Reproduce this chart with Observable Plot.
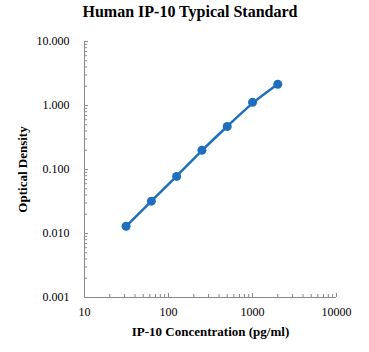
<!DOCTYPE html>
<html>
<head>
<meta charset="utf-8">
<script src="https://cdn.jsdelivr.net/npm/d3@7"></script>
<script src="https://cdn.jsdelivr.net/npm/@observablehq/plot@0.6"></script>
<style>
  body { margin: 0; background: #fff; }
  #wrap { position: relative; width: 369px; height: 352px; }
  #title { position: absolute; left: 0; top: 3px; width: 369px; padding-left: 11px; box-sizing: border-box;
           text-align: center; font-family: "Liberation Serif", "Times New Roman", "DejaVu Serif", serif;
           font-weight: bold; font-size: 16px; color: #000; }
  #chart { position: absolute; left: 0; top: 0; }
  #chart svg text { font-family: "Liberation Serif", "Times New Roman", "DejaVu Serif", serif; }
</style>
</head>
<body>
<div id="wrap">
  <div id="chart"></div>
  <div id="title">Human IP-10 Typical Standard</div>
</div>
<script>
const concentration = [31.25, 62.5, 125, 250, 500, 1000, 2000];
const opticalDensity = [0.013, 0.032, 0.078, 0.2, 0.47, 1.12, 2.15];
const xTicks = [10, 100, 1000, 10000];
const yTicks = [0.001, 0.01, 0.1, 1, 10];
const xMinor = [];
for (const d of [10, 100, 1000]) for (let k = 2; k <= 9; k++) xMinor.push(d * k);
const yMinor = [];
for (const d of [0.001, 0.01, 0.1, 1]) for (let k = 2; k <= 9; k++) yMinor.push(d * k);

const data = concentration.map((c, i) => ({c, od: opticalDensity[i]}));
const blue = "#1e6fbe";
const grey = "#8a8a8a";
const font = "'Liberation Serif', 'Times New Roman', 'DejaVu Serif', serif";

const chart = Plot.plot({
  width: 369,
  height: 352,
  marginLeft: 84,
  marginRight: 33,
  marginTop: 41,
  marginBottom: 55,
  style: {fontFamily: font, fontSize: "12px", color: "#000", background: "transparent"},
  x: {type: "log", domain: [10, 10000]},
  y: {type: "log", domain: [0.001, 10]},
  marks: [
    Plot.axisY({ticks: yMinor, tickSize: 3, dx: 3, text: null, stroke: grey, label: null}),
    Plot.axisY({ticks: yTicks, tickSize: 4, dx: 4, text: null, stroke: grey, label: null}),
    Plot.axisY({ticks: yTicks, tickSize: 0, tickPadding: 15, tickFormat: d3.format(".3f"), fontSize: 12, fontFamily: font, label: null}),
    Plot.axisX({ticks: xMinor, tickSize: 3, dy: -3, text: null, stroke: grey, label: null}),
    Plot.axisX({ticks: xTicks, tickSize: 4, dy: -4, text: null, stroke: grey, label: null}),
    Plot.axisX({ticks: xTicks, tickSize: 0, tickPadding: 10, tickFormat: d3.format("d"), fontSize: 12, fontFamily: font, label: null}),
    Plot.ruleX([10], {stroke: grey, strokeWidth: 1}),
    Plot.ruleY([0.001], {stroke: grey, strokeWidth: 1}),
    Plot.line(data, {x: "c", y: "od", stroke: blue, strokeWidth: 2.5, curve: "basis"}),
    Plot.dot(data, {x: "c", y: "od", r: 4.5, fill: blue, stroke: "none"}),
    Plot.text(["IP-10 Concentration (pg/ml)"], {text: d => d, frameAnchor: "bottom", dy: 38, fontWeight: "bold", fontSize: 13, fontFamily: font}),
    Plot.text(["Optical Density"], {text: d => d, frameAnchor: "left", textAnchor: "middle", dx: -62, rotate: -90, fontWeight: "bold", fontSize: 13, fontFamily: font})
  ]
});
document.getElementById("chart").appendChild(chart);
</script>
</body>
</html>
